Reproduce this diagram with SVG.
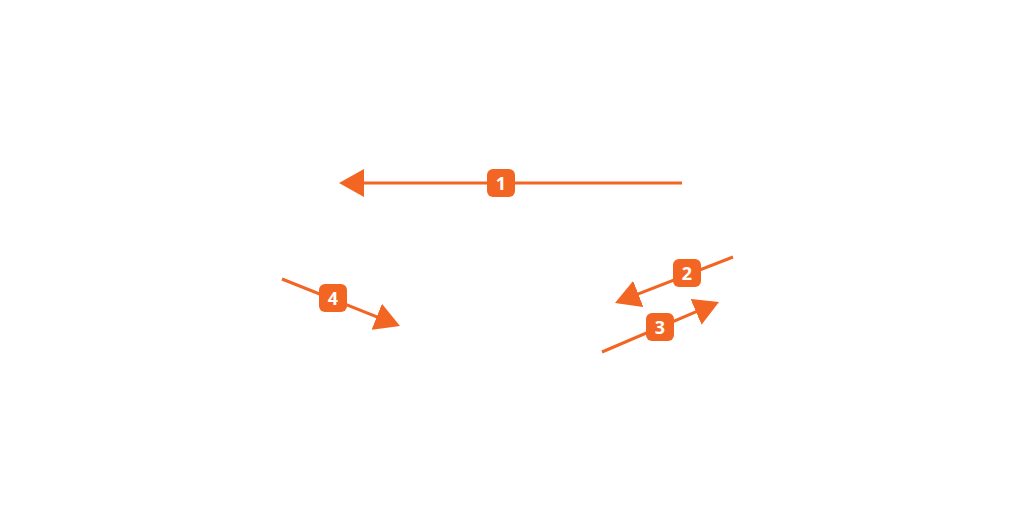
<svg xmlns="http://www.w3.org/2000/svg" width="1024" height="513" viewBox="0 0 1024 513">
<style>
.c{stroke:#F26522;stroke-width:3;fill:none}
.b{fill:#F26522}
.t{fill:#fff;font-family:"Open Sans","Noto Sans",sans-serif;font-weight:bold;font-size:18px;text-anchor:middle;dominant-baseline:central}
</style>
<defs>
<marker id="ah" viewBox="0 0 25 28" refX="15" refY="14" markerWidth="25" markerHeight="28" markerUnits="userSpaceOnUse" orient="auto">
<path d="M0,0 L25,14 L0,28 Z" fill="#F26522"/>
</marker>
</defs>
<rect width="1024" height="513" fill="#fff"/>
<g id="connectors">
<line class="c" x1="682" y1="183" x2="349" y2="183" marker-end="url(#ah)"/>
<line class="c" x1="733" y1="257" x2="624.3" y2="299.4" marker-end="url(#ah)"/>
<line class="c" x1="602" y1="352" x2="709.8" y2="305.9" marker-end="url(#ah)"/>
<line class="c" x1="282" y1="279" x2="390.7" y2="322.3" marker-end="url(#ah)"/>
</g>
<g id="label1"><rect class="b" x="487" y="169" width="28" height="28" rx="6"/><text class="t" x="501" y="183">1</text></g>
<g id="label2"><rect class="b" x="673" y="259" width="28" height="28" rx="6"/><text class="t" x="687" y="273">2</text></g>
<g id="label3"><rect class="b" x="646" y="313" width="28" height="28" rx="6"/><text class="t" x="660" y="327">3</text></g>
<g id="label4"><rect class="b" x="319" y="284" width="28" height="28" rx="6"/><text class="t" x="333" y="298">4</text></g>
</svg>
